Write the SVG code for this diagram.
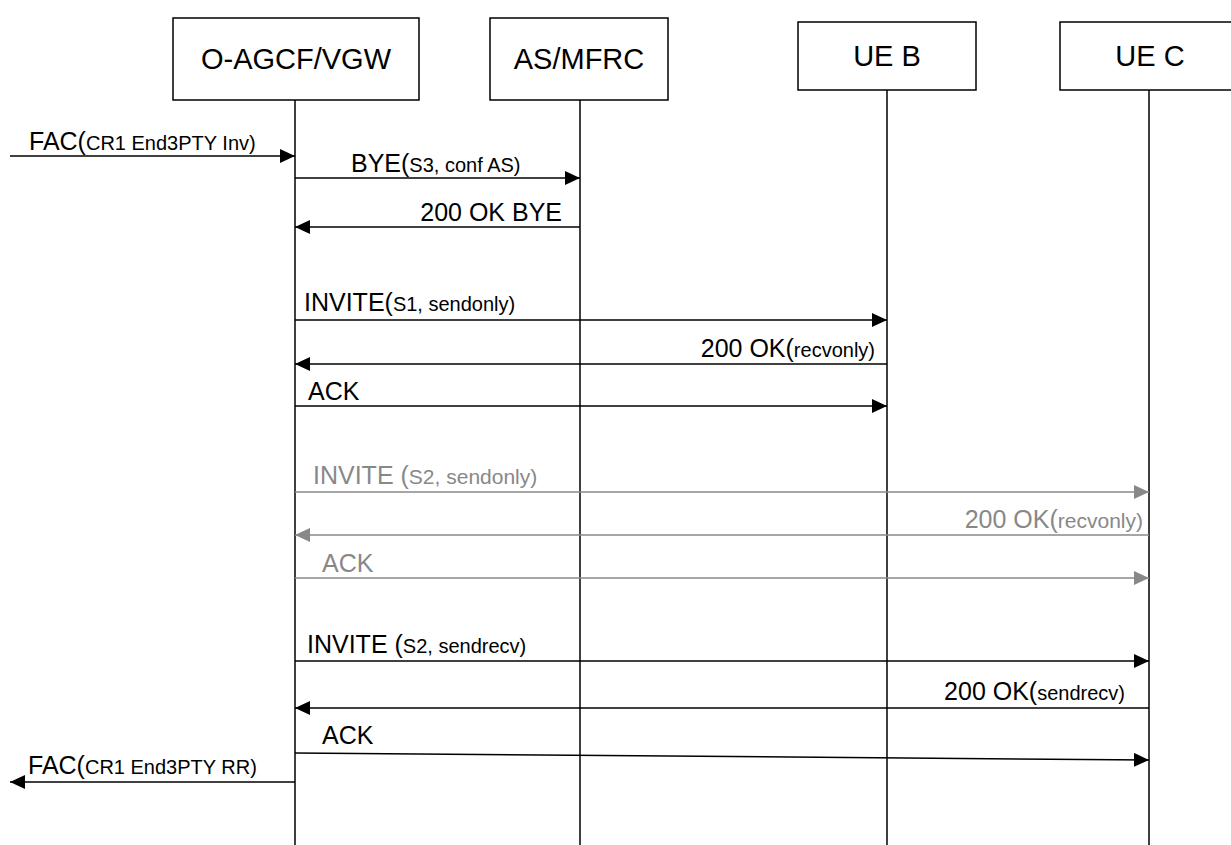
<svg xmlns="http://www.w3.org/2000/svg" width="1231" height="845" viewBox="0 0 1231 845">
<style>
.box{fill:#fff;stroke:#000;stroke-width:1.5}
.life{stroke:#000;stroke-width:1.5}
.hdr{font-family:"Liberation Sans",Arial,sans-serif;font-size:29px;fill:#000;text-anchor:middle}
.lbl{font-family:"Liberation Sans",Arial,sans-serif;font-size:25px;fill:#000}
.gl{fill:#888}
.sm{font-size:20px}
.gsm{font-size:21px}
.msg{stroke:#000;stroke-width:1.5;fill:none;marker-end:url(#ah)}
.gmsg{stroke:#888;stroke-width:1.5;fill:none;marker-end:url(#gah)}
</style>
<defs>
<marker id="ah" markerUnits="userSpaceOnUse" markerWidth="16" markerHeight="14" refX="15" refY="7" orient="auto">
<path d="M0,0 L15,7 L0,14 Z" fill="#000"/>
</marker>
<marker id="gah" markerUnits="userSpaceOnUse" markerWidth="16" markerHeight="14" refX="15" refY="7" orient="auto">
<path d="M0,0 L15,7 L0,14 Z" fill="#888"/>
</marker>
</defs>
<rect width="1231" height="845" fill="#fff"/>
<g id="node-agcf">
<rect class="box" x="173" y="18" width="246" height="82"/>
<line class="life" x1="295" y1="100" x2="295" y2="845"/>
<text class="hdr" x="296" y="69">O-AGCF/VGW</text>
</g>
<g id="node-as">
<rect class="box" x="490" y="18" width="178" height="82"/>
<line class="life" x1="580" y1="100" x2="580" y2="845"/>
<text class="hdr" x="579" y="69">AS/MFRC</text>
</g>
<g id="node-ueb">
<rect class="box" x="798" y="22" width="178" height="68"/>
<line class="life" x1="887" y1="90" x2="887" y2="845"/>
<text class="hdr" x="887" y="66">UE B</text>
</g>
<g id="node-uec">
<rect class="box" x="1060" y="22" width="175" height="68"/>
<line class="life" x1="1149" y1="90" x2="1149" y2="845"/>
<text class="hdr" x="1150" y="66">UE C</text>
</g>
<g id="connectors">
<line class="msg" x1="10" y1="156" x2="295" y2="156"/>
<line class="msg" x1="295" y1="178" x2="580" y2="178"/>
<line class="msg" x1="580" y1="227" x2="295" y2="227"/>
<line class="msg" x1="295" y1="320" x2="887" y2="320"/>
<line class="msg" x1="887" y1="364" x2="295" y2="364"/>
<line class="msg" x1="295" y1="406" x2="887" y2="406"/>
<line class="gmsg" x1="295" y1="492" x2="1149" y2="492"/>
<line class="gmsg" x1="1149" y1="535" x2="295" y2="535"/>
<line class="gmsg" x1="295" y1="578" x2="1149" y2="578"/>
<line class="msg" x1="295" y1="661" x2="1149" y2="661"/>
<line class="msg" x1="1149" y1="708" x2="295" y2="708"/>
<line class="msg" x1="295" y1="753" x2="1149" y2="760"/>
<line class="msg" x1="295" y1="782" x2="10" y2="782"/>
</g>
<g id="labels">
<text class="lbl" x="29" y="150">FAC(<tspan class="sm">CR1 End3PTY Inv)</tspan></text>
<text class="lbl" x="351" y="172">BYE(<tspan class="sm">S3, conf AS)</tspan></text>
<text class="lbl" x="562" y="221" text-anchor="end">200 OK BYE</text>
<text class="lbl" x="304" y="311">INVITE(<tspan class="sm">S1, sendonly)</tspan></text>
<text class="lbl" x="875" y="357" text-anchor="end">200 OK(<tspan class="sm">recvonly)</tspan></text>
<text class="lbl" x="308" y="400">ACK</text>
<text class="lbl gl" x="313" y="484">INVITE (<tspan class="gsm">S2, sendonly)</tspan></text>
<text class="lbl gl" x="1143" y="528" text-anchor="end">200 OK(<tspan class="gsm">recvonly)</tspan></text>
<text class="lbl gl" x="322" y="572">ACK</text>
<text class="lbl" x="307" y="653">INVITE (<tspan class="sm">S2, sendrecv)</tspan></text>
<text class="lbl" x="1125" y="700" text-anchor="end">200 OK(<tspan class="sm">sendrecv)</tspan></text>
<text class="lbl" x="322" y="744">ACK</text>
<text class="lbl" x="28" y="774">FAC(<tspan class="sm">CR1 End3PTY RR)</tspan></text>
</g>
</svg>
